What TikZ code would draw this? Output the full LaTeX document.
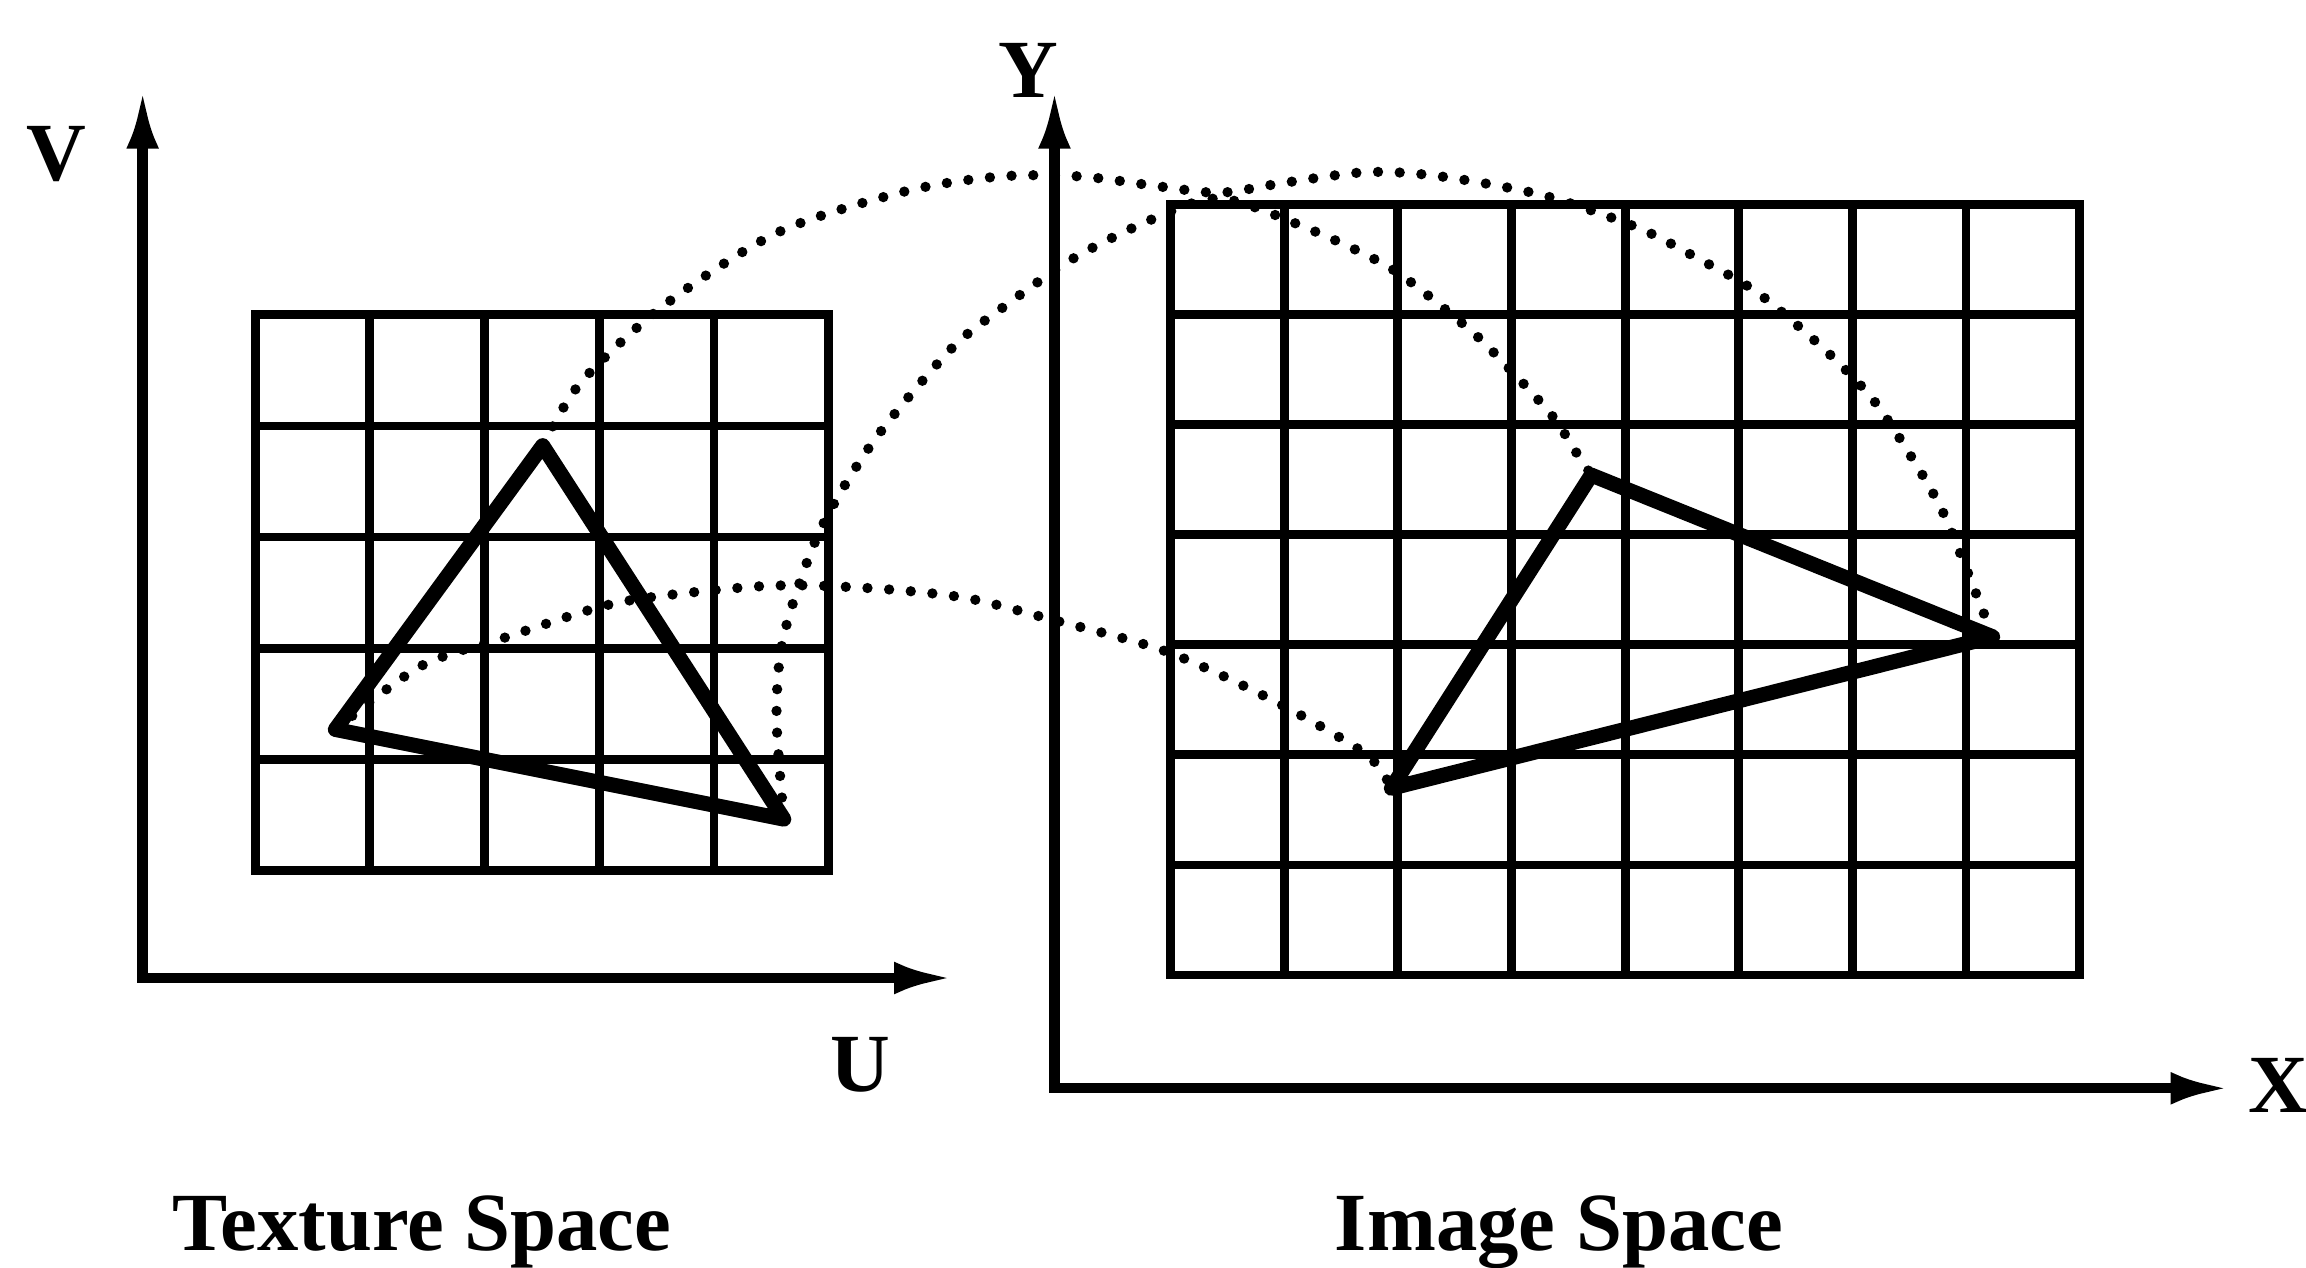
\documentclass[tikz,border=0pt]{standalone}
\usepackage{fontspec}
\setmainfont{Liberation Serif}
\usetikzlibrary{arrows.meta}
\begin{document}
\begin{tikzpicture}[
  axis/.style={line width=2pt, {Latex[length=4mm,width=2.2mm]}-{Latex[length=4mm,width=2.2mm]}},
  gridline/.style={line width=1.7pt, line cap=rect},
  tri/.style={line width=2.9pt, line join=round},
  map/.style={line width=2pt, line cap=round, dash pattern=on 0pt off 4.2pt},
  lbl/.style={font=\bfseries\fontsize{16}{19}\selectfont, inner sep=0pt}
]
\useasboundingbox (0,0) rectangle (15.68,8.62);

\foreach \i in {0,...,5}{
\draw[gridline] ({1.735+0.78*\i},2.70) -- ({1.735+0.78*\i},6.48);
\draw[gridline] (1.735,{2.70+0.756*\i}) -- (5.635,{2.70+0.756*\i});
}
\foreach \i in {0,...,8}
\draw[gridline] ({7.96+0.7725*\i},1.99) -- ({7.96+0.7725*\i},7.23);
\foreach \j in {0,...,7}
\draw[gridline] (7.96,{1.99+0.7486*\j}) -- (14.14,{1.99+0.7486*\j});

\coordinate (ta) at (3.69,5.59);
\coordinate (tb) at (2.28,3.66);
\coordinate (tc) at (5.33,3.05);
\coordinate (it) at (10.82,5.39);
\coordinate (il) at (9.46,3.26);
\coordinate (ir) at (13.55,4.29);

\draw[tri] (ta) -- (tb) -- (tc) -- cycle;
\draw[tri] (it) -- (il) -- (ir) -- cycle;

\draw[map] plot[smooth] coordinates {(ta) (3.95,6.02) (4.51,6.54) (5.29,7.04) (6.16,7.32) (6.80,7.42) (7.35,7.42) (7.90,7.35) (8.30,7.31) (8.75,7.38) (9.30,7.45) (9.80,7.42) (10.50,7.29) (11.14,7.07) (11.55,6.86) (11.95,6.63) (12.41,6.24) (12.73,5.91) (12.98,5.54) (13.21,5.14) (13.43,4.60) (ir)};
\draw[map] plot[smooth] coordinates {(tc) (5.28,3.75) (5.33,4.30) (5.57,5.00) (5.94,5.62) (6.46,6.24) (6.82,6.53) (7.31,6.87) (7.86,7.14) (8.30,7.27) (8.86,7.08) (9.45,6.80) (9.92,6.44) (10.15,6.23) (10.54,5.81) (10.72,5.54) (it)};
\draw[map] plot[smooth] coordinates {(tb) (2.86,4.09) (3.45,4.29) (4.19,4.52) (4.99,4.62) (5.46,4.64) (6.07,4.61) (6.59,4.55) (7.14,4.41) (7.93,4.19) (8.67,3.85) (9.29,3.49) (il)};

\coordinate (vtip) at (0.97,8.01);
\coordinate (utip) at (6.48,1.97);
\coordinate (ytip) at (7.17,8.01);
\coordinate (xtip) at (15.16,1.22);
\draw[axis] (vtip) |- (utip);
\draw[axis] (ytip) |- (xtip);

\node[lbl] (vlbl) at (0.38,7.57) {V};
\node[lbl] (ulbl) at (5.85,1.38) {U};
\node[lbl] (ylbl) at (6.99,8.14) {Y};
\node[lbl] (xlbl) at (15.49,1.24) {X};
\node[lbl, anchor=base] (texsp) at (2.87,0.12) {Texture Space};
\node[lbl, anchor=base] (imgsp) at (10.60,0.12) {Image Space};
\end{tikzpicture}
\end{document}
